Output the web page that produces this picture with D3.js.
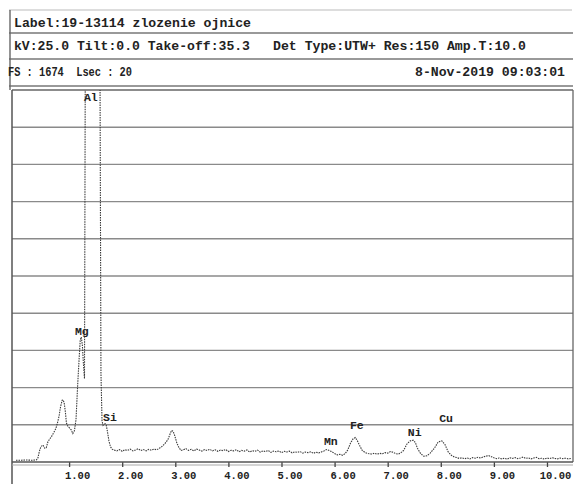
<!DOCTYPE html>
<html>
<head>
<meta charset="utf-8">
<script src="https://cdn.jsdelivr.net/npm/d3@7.9.0/dist/d3.min.js"></script>
<style>
  body { margin: 0; background: #fff; }
  svg { display: block; }
  text { font-family: "Liberation Mono", "Courier New", monospace; font-weight: bold; fill: #222; white-space: pre; }
</style>
</head>
<body>
<svg width="577" height="484"></svg>
<script>
// Spectrum: energy in keV, counts (full scale 1674)
const energy = [
  0.00, 0.10, 0.20, 0.30, 0.38, 0.41, 0.44, 0.47, 0.51, 0.54, 0.57, 0.60, 0.63, 0.67, 0.71, 0.75, 0.78, 0.81, 0.84, 0.87,
  0.89, 0.91, 0.93, 0.95, 0.98, 1.01, 1.04, 1.07, 1.10, 1.13, 1.16, 1.19, 1.21, 1.23, 1.25, 1.27, 1.29, 1.31, 1.34, 1.40,
  1.46, 1.52, 1.56, 1.58, 1.60, 1.62, 1.64, 1.66, 1.68, 1.70, 1.72, 1.75, 1.78, 1.81, 1.84,
  1.90, 1.95, 2.00, 2.05, 2.10, 2.15, 2.20, 2.25, 2.30, 2.35, 2.40, 2.45, 2.50, 2.55, 2.60, 2.65, 2.70,
  2.75, 2.80, 2.86, 2.90, 2.93, 2.96, 2.99, 3.03, 3.07, 3.11,
  3.15, 3.20, 3.25, 3.30, 3.35, 3.40, 3.45, 3.50, 3.55, 3.60, 3.65, 3.70, 3.75, 3.80, 3.85, 3.90, 3.95, 4.00,
  4.05, 4.10, 4.15, 4.20, 4.25, 4.30, 4.35, 4.40, 4.45, 4.50, 4.55, 4.60, 4.65, 4.70, 4.75, 4.80, 4.85, 4.90,
  4.95, 5.00, 5.05, 5.10, 5.15, 5.20, 5.25, 5.30, 5.35, 5.40, 5.45, 5.50, 5.55, 5.60, 5.65, 5.70, 5.75,
  5.80, 5.85, 5.90, 5.95, 6.00, 6.05, 6.10, 6.15, 6.20,
  6.25, 6.30, 6.35, 6.39, 6.43, 6.47, 6.52, 6.58, 6.63,
  6.70, 6.75, 6.80, 6.85, 6.90, 6.95, 7.00, 7.05, 7.10, 7.15, 7.20, 7.25,
  7.30, 7.36, 7.42, 7.48, 7.52, 7.56, 7.62, 7.68, 7.74,
  7.80, 7.88, 7.95, 8.02, 8.08, 8.14, 8.20, 8.26,
  8.30, 8.35, 8.40, 8.45, 8.50, 8.55, 8.60, 8.65, 8.70, 8.75, 8.80, 8.85, 8.90, 8.95, 9.00, 9.05, 9.10, 9.15,
  9.20, 9.25, 9.30, 9.35, 9.40, 9.45, 9.50, 9.55, 9.60, 9.65, 9.70, 9.75, 9.80, 9.85, 9.90, 9.95, 10.00,
  10.05, 10.10, 10.15, 10.20, 10.25, 10.30, 10.35, 10.40, 10.45
];
const counts = [
  8, 8, 9, 8, 9, 15, 48, 70, 76, 62, 64, 90, 102, 115, 132, 150, 175, 205, 250, 278,
  279, 262, 225, 175, 160, 152, 145, 128, 140, 190, 340, 470, 550, 562, 525, 440, 375, 2300, 3600, 4400,
  4700, 4200, 3100, 1900, 400, 185, 165, 170, 172, 165, 140, 95, 68, 58, 54,
  50, 56, 48, 55, 52, 58, 50, 54, 60, 52, 56, 50, 57, 53, 58, 55, 62,
  70, 82, 100, 125, 142, 138, 118, 85, 64, 52,
  55, 60, 52, 57, 50, 58, 54, 49, 56, 52, 57, 50, 55, 48, 54, 51, 56, 47,
  53, 50, 55, 46, 52, 49, 54, 45, 51, 48, 53, 44, 50, 47, 52, 43, 49, 46,
  50, 42, 48, 45, 49, 41, 46, 43, 47, 40, 45, 42, 46, 39, 44, 41, 45,
  50, 56, 52, 46, 38, 32, 35, 30, 38,
  55, 85, 105, 110, 95, 75, 52, 42, 38,
  36, 40, 35, 39, 37, 42, 40, 47, 44, 38, 35, 42,
  52, 80, 95, 98, 88, 62, 38, 26, 28,
  40, 62, 90, 95, 78, 45, 30, 22,
  20, 16, 19, 15, 18, 14, 20, 17, 21, 18, 23, 26, 29, 24, 19, 15, 18, 14,
  17, 13, 19, 16, 20, 15, 18, 22, 16, 19, 14, 18, 21, 15, 17, 13, 18,
  15, 19, 16, 14, 18, 15, 17, 14, 16
];

// Element markers
const elements = ["Al", "Mg", "Si", "Mn", "Fe", "Ni", "Cu"];
const elementEnergy = [1.41, 1.24, 1.77, 5.93, 6.42, 7.51, 8.10];
const elementCount = [1638, 585, 198, 90, 162, 130, 194];

// Axis ticks
const tickValues = [1, 2, 3, 4, 5, 6, 7, 8, 9, 10];
const fullScale = 1674;

// Header text
const headerLine1 = "Label:19-13114 zlozenie ojnice";
const headerLine2a = "kV:25.0 Tilt:0.0 Take-off:35.3";
const headerLine2b = "Det Type:UTW+ Res:150 Amp.T:10.0";
const headerLine3a = "FS : 1674  Lsec : 20";
const headerLine3b = "8-Nov-2019 09:03:01";

const svg = d3.select("svg");

const plotLeft = 12, plotRight = 573, plotTop = 90, plotBottom = 462;

const x = d3.scaleLinear().domain([0, 10.49]).range([16, plotRight]);
const y = d3.scaleLinear().domain([0, fullScale]).range([plotBottom, plotTop]);

// Header boxes
svg.append("line").attr("x1", 9).attr("x2", 572).attr("y1", 10).attr("y2", 10)
  .attr("stroke", "#bbb").attr("stroke-width", 1.2);
[33, 59, 86].forEach((yy) => {
  svg.append("line").attr("x1", 9).attr("x2", 573).attr("y1", yy).attr("y2", yy)
    .attr("stroke", "#777").attr("stroke-width", 1.4);
});
svg.append("line").attr("x1", 10).attr("x2", 10).attr("y1", 10).attr("y2", plotTop)
  .attr("stroke", "#666").attr("stroke-width", 1.4);

const header = [
  { t: headerLine1, x: 14, y: 27, w: 237 },
  { t: headerLine2a, x: 14, y: 50, w: 236 },
  { t: headerLine2b, x: 273, y: 50, w: 253 },
  { t: headerLine3a, x: 8, y: 76, w: 124 },
  { t: headerLine3b, x: 415, y: 76, w: 150 }
];
header.forEach((h) => {
  svg.append("text")
    .attr("x", h.x).attr("y", h.y)
    .attr("font-size", 12)
    .attr("textLength", h.w)
    .attr("lengthAdjust", "spacingAndGlyphs")
    .text(h.t);
});

// Grid lines (10 divisions of full scale)
const gridTicks = d3.range(1, 10).map((i) => (fullScale * i) / 10);
svg.append("g")
  .selectAll("line")
  .data(gridTicks)
  .join("line")
  .attr("x1", plotLeft).attr("x2", plotRight)
  .attr("y1", (d) => y(d)).attr("y2", (d) => y(d))
  .attr("stroke", "#8a8a8a")
  .attr("stroke-width", 1.4);

// Plot frame
svg.append("line").attr("x1", plotLeft).attr("x2", plotRight).attr("y1", plotTop).attr("y2", plotTop)
  .attr("stroke", "#666").attr("stroke-width", 1.4);
svg.append("line").attr("x1", plotLeft).attr("x2", plotLeft).attr("y1", plotTop).attr("y2", 484)
  .attr("stroke", "#555").attr("stroke-width", 1.5);
svg.append("line").attr("x1", plotRight).attr("x2", plotRight).attr("y1", plotTop).attr("y2", plotBottom)
  .attr("stroke", "#666").attr("stroke-width", 1.3);
svg.append("line").attr("x1", plotLeft).attr("x2", plotRight).attr("y1", plotBottom + 3).attr("y2", plotBottom + 3)
  .attr("stroke", "#aaa").attr("stroke-width", 1.2);

// X axis
const xAxis = svg.append("g")
  .attr("transform", `translate(0,${plotBottom})`)
  .call(d3.axisBottom(x).tickValues(tickValues).tickSize(5).tickFormat(d3.format(".2f")));
xAxis.select(".domain").remove();
xAxis.selectAll(".tick line").attr("stroke", "#444").attr("stroke-width", 1.3);
xAxis.selectAll(".tick text")
  .attr("x", 8).attr("y", 10)
  .attr("font-size", 10.5)
  .attr("font-family", "Liberation Mono, monospace")
  .attr("font-weight", "bold")
  .attr("fill", "#222");
svg.append("line").attr("x1", plotLeft).attr("x2", plotRight).attr("y1", plotBottom).attr("y2", plotBottom)
  .attr("stroke", "#555").attr("stroke-width", 1.4);

// Spectrum
svg.append("clipPath").attr("id", "plotClip")
  .append("rect").attr("x", plotLeft).attr("y", plotTop)
  .attr("width", plotRight - plotLeft).attr("height", plotBottom - plotTop);

const spectrum = energy.map((e, i) => ({ e: e, c: counts[i] }));
const line = d3.line().x((d) => x(d.e)).y((d) => y(d.c));

svg.append("path")
  .datum(spectrum)
  .attr("clip-path", "url(#plotClip)")
  .attr("fill", "none")
  .attr("stroke", "#3a3a3a")
  .attr("stroke-width", 1.1)
  .attr("stroke-dasharray", "1.5,1")
  .attr("d", line);

// Element labels
svg.append("g")
  .selectAll("text")
  .data(elements)
  .join("text")
  .attr("x", (d, i) => x(elementEnergy[i]))
  .attr("y", (d, i) => y(elementCount[i]))
  .attr("text-anchor", "middle")
  .attr("dominant-baseline", "middle")
  .attr("font-size", 11.5)
  .text((d) => d);
</script>
</body>
</html>
